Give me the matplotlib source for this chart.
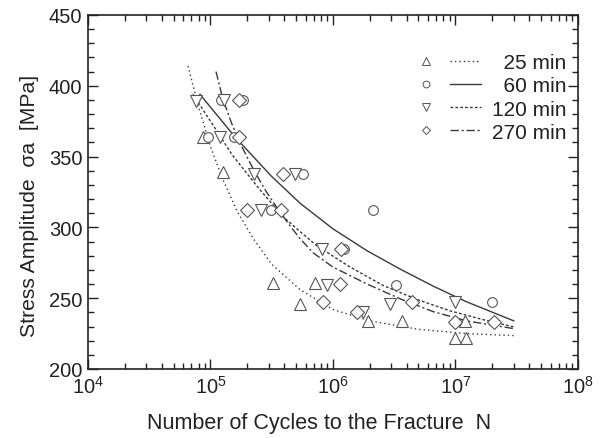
import numpy as np
import matplotlib
matplotlib.use('Agg')
import matplotlib.pyplot as plt
import matplotlib.ticker as mticker
from matplotlib.lines import Line2D
from matplotlib.legend_handler import HandlerTuple

plt.rcParams['font.family'] = ['Liberation Sans', 'DejaVu Sans']
plt.rcParams['mathtext.fontset'] = 'custom'
plt.rcParams['mathtext.rm'] = 'Liberation Sans'
plt.rcParams['mathtext.it'] = 'Liberation Sans'

# measured points (cycles, stress in MPa)
n25 = [8.7e4, 1.26e5, 3.24e5, 7.2e5, 5.4e5, 1.95e6, 3.7e6, 1.2e7, 1.0e7, 1.23e7]
s25 = [364, 339, 261, 261, 246, 234, 234, 234, 222, 222]

n60 = [9.5e4, 1.22e5, 1.84e5, 1.55e5, 5.7e5, 3.1e5, 1.23e6, 2.13e6, 3.3e6, 2.0e7]
s60 = [364, 390, 390, 364, 338, 312, 285, 312, 259, 247]

n120 = [7.6e4, 1.3e5, 1.2e5, 2.27e5, 4.9e5, 2.6e5, 8.1e5, 8.9e5, 1.76e6, 2.95e6, 1.0e7]
s120 = [389, 390, 364, 338, 338, 312, 285, 259, 240, 246, 247]

n270 = [1.7e5, 1.7e5, 3.9e5, 2.0e5, 3.8e5, 1.16e6, 1.15e6, 8.3e5, 1.58e6, 4.4e6, 1.0e7, 2.05e7]
s270 = [390, 364, 338, 312, 312, 285, 260, 247, 240, 247, 233, 233]

# fitted curves
c25_n = [6.55e4, 8.0e4, 1.0e5, 1.26e5, 1.66e5, 2.24e5, 3.16e5, 5.4e5, 1.0e6, 2.0e6, 5.0e6, 1.26e7, 3.1e7]
c25_s = [414, 385, 357, 334, 311, 292, 274, 256, 242, 234, 228, 225, 223.5]

c60_n = [8.2e4, 1.58e5, 3.16e5, 5.4e5, 1.0e6, 1.9e6, 3.55e6, 6.6e6, 1.23e7, 3.0e7]
c60_s = [394, 364, 336, 317, 299, 283.5, 270.5, 258.5, 247.5, 234]

c120_n = [7.2e4, 1.0e5, 1.51e5, 2.51e5, 3.98e5, 5.4e5, 7.4e5, 1.38e6, 2.57e6, 4.9e6, 9.1e6, 1.66e7, 3.0e7]
c120_s = [394, 375, 351, 327, 307, 297, 287, 272, 259, 249, 241, 235, 229.7]

c270_n = [1.11e5, 1.26e5, 1.48e5, 1.78e5, 2.24e5, 2.82e5, 3.55e5, 4.47e5, 5.4e5, 6.9e5, 1.0e6, 1.9e6, 3.55e6, 6.6e6, 1.23e7, 3.0e7]
c270_s = [410, 391, 374, 358, 341, 326, 313, 301, 292, 282, 272, 260, 249.5, 240.5, 234, 228.5]

gris = '#3a3a3a'
fig = plt.figure(figsize=(6.0, 4.39), dpi=100)
ax = fig.add_axes([0.1467, 0.1572, 0.8163, 0.8064])

mk = dict(linestyle='none', mfc='white', mec='#555555', mew=0.8)
ax.plot(n25, s25, marker='^', ms=8, **mk, zorder=3)
ax.plot(n60, s60, marker='o', ms=7, **mk, zorder=3)
ax.plot(n120, s120, marker='v', ms=8, **mk, zorder=3)
ax.plot(n270, s270, marker='D', ms=7, **mk, zorder=3)

l25, = ax.plot(c25_n, c25_s, color=gris, lw=1.0, linestyle=(0, (1, 2.2)))
l60, = ax.plot(c60_n, c60_s, color=gris, lw=1.0, linestyle='-')
l120, = ax.plot(c120_n, c120_s, color=gris, lw=1.0, linestyle=(0, (2, 1.5)))
l270, = ax.plot(c270_n, c270_s, color=gris, lw=1.0, linestyle=(0, (6, 2, 1.5, 2)))

ax.set_xscale('log')
ax.set_xlim(1e4, 1e8)
ax.set_ylim(200, 450)
ax.yaxis.set_major_locator(mticker.MultipleLocator(50))
ax.yaxis.set_minor_locator(mticker.MultipleLocator(10))
ax.xaxis.set_major_locator(mticker.LogLocator(base=10, numticks=10))
ax.xaxis.set_minor_locator(mticker.LogLocator(base=10, subs=np.arange(2, 10), numticks=20))
ax.xaxis.set_minor_formatter(mticker.NullFormatter())

ax.tick_params(which='both', direction='in', top=True, right=True, colors='#222222',
               labelsize=14.5, width=1.0)
ax.tick_params(which='major', length=7, pad=4)
ax.tick_params(which='minor', length=4)
for sp in ax.spines.values():
    sp.set_linewidth(1.2)
    sp.set_color('#222222')

ax.set_xlabel('Number of Cycles to the Fracture  N', fontsize=15.5, color='#222222',
              labelpad=11, x=0.471)
ax.set_ylabel('Stress Amplitude  σa  [MPa]', fontsize=15.2, color='#222222',
              labelpad=7, y=0.463)

def mk_h(m, ms):
    return Line2D([], [], marker=m, ms=ms * 0.7, linestyle='none', mfc='white', mec='#555555', mew=0.7)

handles = [(mk_h('^', 8), l25), (mk_h('o', 7), l60), (mk_h('v', 8), l120), (mk_h('D', 6), l270)]
labels = ['  25 min', '  60 min', '120 min', '270 min']
leg = ax.legend(handles, labels, handler_map={tuple: HandlerTuple(ndivide=None, pad=0.4)},
                loc='upper right', bbox_to_anchor=(1.015, 0.945), frameon=False,
                fontsize=15, handlelength=3.4, handletextpad=0.5, labelspacing=0.2)
for t in leg.get_texts():
    t.set_color('#222222')

fig.savefig('out.png', dpi=100)
